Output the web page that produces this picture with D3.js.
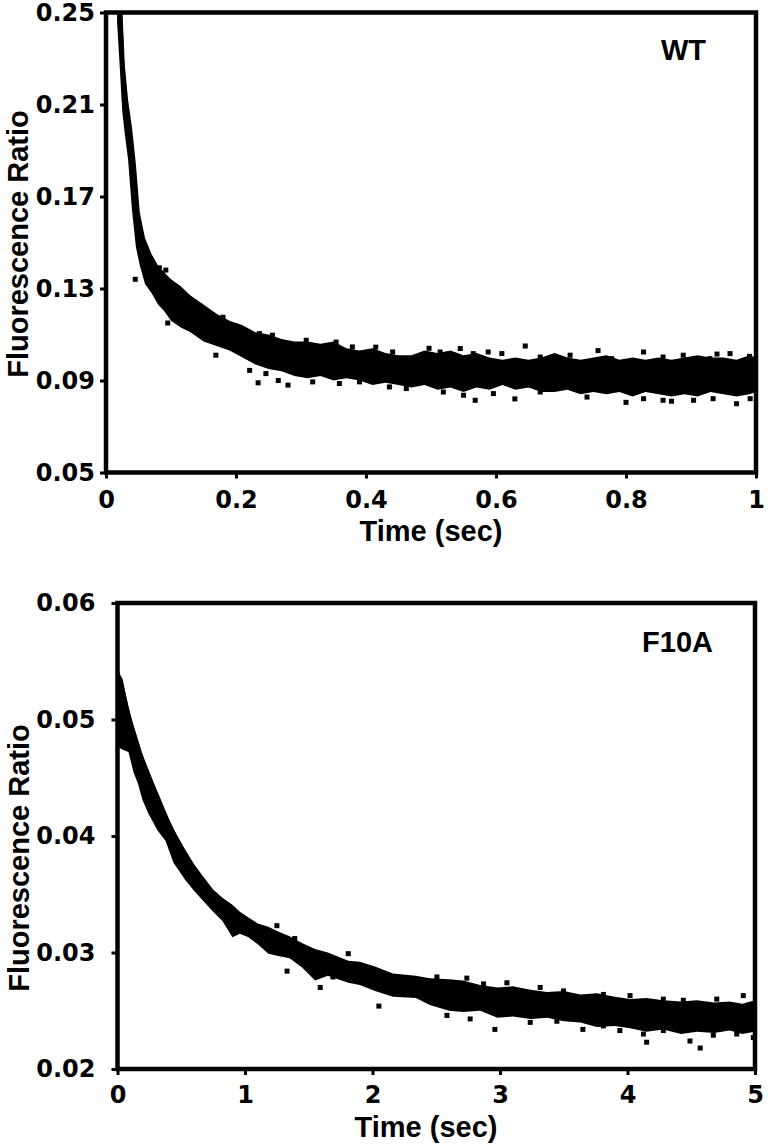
<!DOCTYPE html>
<html>
<head>
<meta charset="utf-8">
<script src="https://cdn.jsdelivr.net/npm/d3@7"></script>
<style>
    body { margin: 0; background: #fff; }
    svg text { font-family: "Liberation Sans", Arial, Helvetica, sans-serif; font-weight: bold; fill: #000; }
    svg .tick text { font-family: "DejaVu Sans", "Liberation Sans", sans-serif; }
</style>
</head>
<body>
<div id="chart"></div>
<script>
// ---- WT panel: edges of the dense data band, stray points, fitted curve ----
const wtBandTime = [0.017,0.021,0.025,0.029,0.034,0.040,0.046,0.052,0.060,0.070,
    0.080,0.090,0.100,0.115,0.130,0.150,0.170,0.190,0.210,0.230,
    0.250,0.270,0.290,0.310,0.330,0.350,0.370,0.390,0.410,0.430,
    0.450,0.470,0.490,0.510,0.530,0.550,0.570,0.590,0.610,0.630,
    0.650,0.670,0.690,0.710,0.730,0.750,0.770,0.790,0.810,0.830,
    0.850,0.870,0.890,0.910,0.930,0.950,0.970,0.990,1.000];
const wtBandHigh = [0.252,0.252,0.252,0.227,0.212,0.200,0.184,0.163,0.152,0.145,
    0.140,0.137,0.134,0.131,0.127,0.123,0.119,0.116,0.114,0.111,
    0.110,0.108,0.107,0.107,0.106,0.107,0.104,0.103,0.104,0.102,
    0.101,0.101,0.103,0.102,0.103,0.101,0.102,0.100,0.099,0.100,
    0.099,0.100,0.102,0.100,0.099,0.100,0.101,0.099,0.100,0.099,
    0.100,0.099,0.100,0.101,0.100,0.100,0.099,0.101,0.100];
const wtBandLow = [0.246,0.227,0.207,0.197,0.186,0.164,0.148,0.140,0.132,0.128,
    0.123,0.120,0.116,0.113,0.111,0.107,0.105,0.103,0.100,0.097,
    0.095,0.094,0.092,0.091,0.092,0.090,0.091,0.090,0.088,0.089,
    0.088,0.087,0.088,0.086,0.087,0.085,0.087,0.086,0.088,0.086,
    0.087,0.085,0.085,0.086,0.084,0.085,0.084,0.085,0.083,0.085,
    0.084,0.083,0.084,0.083,0.085,0.084,0.083,0.084,0.085];
const wtStrayTime = [0.045,0.082,0.092,0.095,0.144,0.164,0.169,0.180,0.200,0.221,
    0.234,0.236,0.246,0.256,0.265,0.280,0.308,0.318,0.354,0.359,
    0.379,0.390,0.415,0.436,0.441,0.462,0.497,0.514,0.519,0.545,
    0.550,0.565,0.568,0.588,0.596,0.609,0.629,0.645,0.668,0.668,
    0.714,0.740,0.757,0.778,0.800,0.827,0.827,0.857,0.857,0.870,
    0.888,0.904,0.929,0.934,0.940,0.960,0.970,0.990,0.991];
const wtStrayRatio = [0.134,0.139,0.138,0.115,0.1223,0.1184,0.101,0.1175,0.1136,0.0944,
    0.089,0.1104,0.093,0.1097,0.090,0.088,0.1075,0.0894,0.1067,0.0887,
    0.1046,0.0894,0.1045,0.0872,0.1024,0.0865,0.104,0.1024,0.085,0.1039,
    0.0836,0.1017,0.0814,0.1024,0.0843,0.1017,0.082,0.105,0.1002,0.085,
    0.101,0.0828,0.103,0.0995,0.0805,0.1024,0.0821,0.1002,0.0814,0.081,
    0.101,0.0814,0.0995,0.0821,0.1015,0.1017,0.0799,0.1005,0.0821];
const wtFitTime = [0.0215,0.025,0.029,0.034,0.040,0.046,0.052,0.060,0.070,0.080,0.090,0.100,0.130,0.150,0.190,0.250,0.350,0.500,0.600,0.800,1.000];
const wtFitRatio = [0.252,0.228,0.211,0.198,0.182,0.166,0.152,0.1425,0.1365,0.1315,0.1285,0.125,0.119,0.115,0.1095,0.1025,0.0985,0.0955,0.0935,0.0925,0.0925];
const wtXTicks = [0, 0.2, 0.4, 0.6, 0.8, 1];
const wtXLabels = ["0", "0.2", "0.4", "0.6", "0.8", "1"];
const wtYTicks = [0.05, 0.09, 0.13, 0.17, 0.21, 0.25];
const wtYLabels = ["0.05", "0.09", "0.13", "0.17", "0.21", "0.25"];

// ---- F10A panel ----
const f10aBandTime = [0.000,0.010,0.040,0.086,0.125,0.160,0.196,0.243,0.313,0.376,
    0.439,0.533,0.600,0.666,0.750,0.823,0.901,0.960,1.027,1.100,
    1.183,1.260,1.350,1.450,1.550,1.650,1.810,1.900,2.020,2.160,
    2.340,2.450,2.600,2.710,2.845,2.980,3.100,3.240,3.370,3.500,
    3.630,3.760,3.900,4.020,4.150,4.280,4.420,4.545,4.680,4.800,
    4.900,5.000];
const f10aBandHigh = [0.0542,0.0540,0.0535,0.0510,0.0495,0.0483,0.0470,0.0456,0.0437,0.0420,
    0.0406,0.0388,0.0376,0.0366,0.0354,0.0347,0.0341,0.0335,0.0330,0.0325,
    0.0322,0.0318,0.0314,0.0308,0.0303,0.0300,0.0293,0.0292,0.0288,0.0282,
    0.0280,0.0278,0.0277,0.0276,0.0272,0.0270,0.0271,0.0268,0.0266,0.0267,
    0.0264,0.0265,0.0262,0.0260,0.0261,0.0259,0.0258,0.0259,0.0257,0.0258,
    0.0256,0.0259];
const f10aBandLow = [0.0485,0.0476,0.0474,0.0472,0.0455,0.0445,0.0431,0.0419,0.0405,0.0396,
    0.0377,0.0362,0.0353,0.0345,0.0335,0.0327,0.0313,0.0316,0.0313,0.0307,
    0.0299,0.0297,0.0295,0.0287,0.0276,0.0280,0.0274,0.0272,0.0267,0.0262,
    0.0261,0.0255,0.0250,0.0249,0.0250,0.0244,0.0245,0.0243,0.0244,0.0241,
    0.0240,0.0236,0.0237,0.0235,0.0232,0.0234,0.0230,0.0232,0.0231,0.0233,
    0.0230,0.0232];
const f10aStrayTime = [1.25,1.33,1.39,1.59,1.69,1.81,2.05,2.505,2.584,2.74,
    2.766,2.871,2.96,3.054,3.237,3.315,3.446,3.498,3.65,3.811,
    3.811,3.94,4.02,4.125,4.15,4.281,4.281,4.438,4.49,4.57,
    4.673,4.70,4.857,4.908,4.987];
const f10aStrayRatio = [0.0323,0.0284,0.0312,0.0270,0.0279,0.0299,0.0254,0.0279,0.0246,0.0278,
    0.0243,0.0273,0.0234,0.0274,0.0240,0.0270,0.0241,0.0267,0.0234,0.0264,
    0.0237,0.0233,0.0263,0.0230,0.0223,0.0260,0.0233,0.0259,0.0224,0.0218,
    0.0229,0.0260,0.0230,0.0263,0.0227];
const f10aFitTime = [0,0.024,0.089,0.167,0.245,0.324,0.402,0.507,0.637,0.768,0.899,1.029,1.16,1.29,1.55,1.81,2.07,2.34,2.57,3.0,3.5,4.0,4.5,5.0];
const f10aFitRatio = [0.0540,0.0532,0.0503,0.0474,0.0452,0.0431,0.0411,0.0388,0.0366,0.0348,0.0337,0.0325,0.0317,0.0308,0.0296,0.0287,0.0279,0.0272,0.0267,0.0259,0.0252,0.0248,0.0246,0.0245];
const f10aXTicks = [0, 1, 2, 3, 4, 5];
const f10aXLabels = ["0", "1", "2", "3", "4", "5"];
const f10aYTicks = [0.02, 0.03, 0.04, 0.05, 0.06];
const f10aYLabels = ["0.02", "0.03", "0.04", "0.05", "0.06"];

const svg = d3.select("#chart")
    .append("svg")
    .attr("width", 768)
    .attr("height", 1148);

function drawPanel(p) {
    const x = d3.scaleLinear().domain(p.xDomain).range([p.left, p.right]);
    const y = d3.scaleLinear().domain(p.yDomain).range([p.bottom, p.top]);
    const g = svg.append("g");

    g.append("clipPath").attr("id", "clip-" + p.id)
        .append("rect")
        .attr("x", p.left).attr("y", p.top)
        .attr("width", p.right - p.left).attr("height", p.bottom - p.top);

    const plot = g.append("g").attr("clip-path", `url(#clip-${p.id})`);

    const band = p.bandTime.map((t, i) => ({ t, hi: p.bandHigh[i], lo: p.bandLow[i] }));
    plot.append("path")
        .datum(band)
        .attr("fill", "#000")
        .attr("d", d3.area().x(d => x(d.t)).y0(d => y(d.lo)).y1(d => y(d.hi)));

    const stray = p.strayTime.map((t, i) => ({ t, v: p.strayRatio[i] }));
    plot.selectAll(".pt")
        .data(stray)
        .join("rect")
        .attr("class", "pt")
        .attr("x", d => x(d.t) - 2.5)
        .attr("y", d => y(d.v) - 2.5)
        .attr("width", 5)
        .attr("height", 5)
        .attr("fill", "#000");

    const fit = p.fitTime.map((t, i) => ({ t, v: p.fitRatio[i] }));
    plot.append("path")
        .datum(fit)
        .attr("fill", "none")
        .attr("stroke", "#000")
        .attr("stroke-width", 4)
        .attr("d", d3.line().curve(d3.curveMonotoneX).x(d => x(d.t)).y(d => y(d.v)));

    // axes
    const xAxis = g.append("g")
        .attr("transform", `translate(0,${p.bottom})`)
        .call(d3.axisBottom(x).tickValues(p.xTicks)
            .tickFormat((d, i) => p.xLabels[i])
            .tickSize(6).tickSizeOuter(0).tickPadding(p.xPad));
    const yAxis = g.append("g")
        .attr("transform", `translate(${p.left},0)`)
        .call(d3.axisLeft(y).tickValues(p.yTicks)
            .tickFormat((d, i) => p.yLabels[i])
            .tickSize(6).tickSizeOuter(0).tickPadding(p.yPad));

    [xAxis, yAxis].forEach(a => {
        a.select(".domain").remove();
        a.attr("font-size", 24).attr("font-family", null);
        a.selectAll(".tick line").attr("stroke-width", 3);
    });

    g.append("rect")
        .attr("x", p.left).attr("y", p.top)
        .attr("width", p.right - p.left).attr("height", p.bottom - p.top)
        .attr("fill", "none")
        .attr("stroke", "#000")
        .attr("stroke-width", 4.5);

    g.append("text")
        .attr("x", p.xTitle[0]).attr("y", p.xTitle[1])
        .attr("text-anchor", "middle")
        .style("font-size", "29px")
        .text("Time (sec)");

    g.append("text")
        .attr("transform", `translate(${p.yTitle[0]},${p.yTitle[1]}) rotate(-90)`)
        .attr("text-anchor", "middle")
        .style("font-size", "29px")
        .text("Fluorescence Ratio");

    g.append("text")
        .attr("x", p.tag[0]).attr("y", p.tag[1])
        .attr("text-anchor", "end")
        .style("font-size", "29px")
        .text(p.name);
}

drawPanel({
    id: "wt", name: "WT",
    left: 106, right: 756, top: 12.5, bottom: 472.5,
    xDomain: [0, 1], yDomain: [0.05, 0.25],
    bandTime: wtBandTime, bandHigh: wtBandHigh, bandLow: wtBandLow,
    strayTime: wtStrayTime, strayRatio: wtStrayRatio,
    fitTime: wtFitTime, fitRatio: wtFitRatio,
    xTicks: wtXTicks, xLabels: wtXLabels, yTicks: wtYTicks, yLabels: wtYLabels,
    xPad: 12, yPad: 5,
    xTitle: [431, 541], yTitle: [28, 244], tag: [706, 60]
});

drawPanel({
    id: "f10a", name: "F10A",
    left: 117.5, right: 755, top: 603, bottom: 1069,
    xDomain: [0, 5], yDomain: [0.02, 0.06],
    bandTime: f10aBandTime, bandHigh: f10aBandHigh, bandLow: f10aBandLow,
    strayTime: f10aStrayTime, strayRatio: f10aStrayRatio,
    fitTime: f10aFitTime, fitRatio: f10aFitRatio,
    xTicks: f10aXTicks, xLabels: f10aXLabels, yTicks: f10aYTicks, yLabels: f10aYLabels,
    xPad: 11, yPad: 16,
    xTitle: [426, 1137], yTitle: [29, 858], tag: [713, 652]
});
</script>
</body>
</html>
